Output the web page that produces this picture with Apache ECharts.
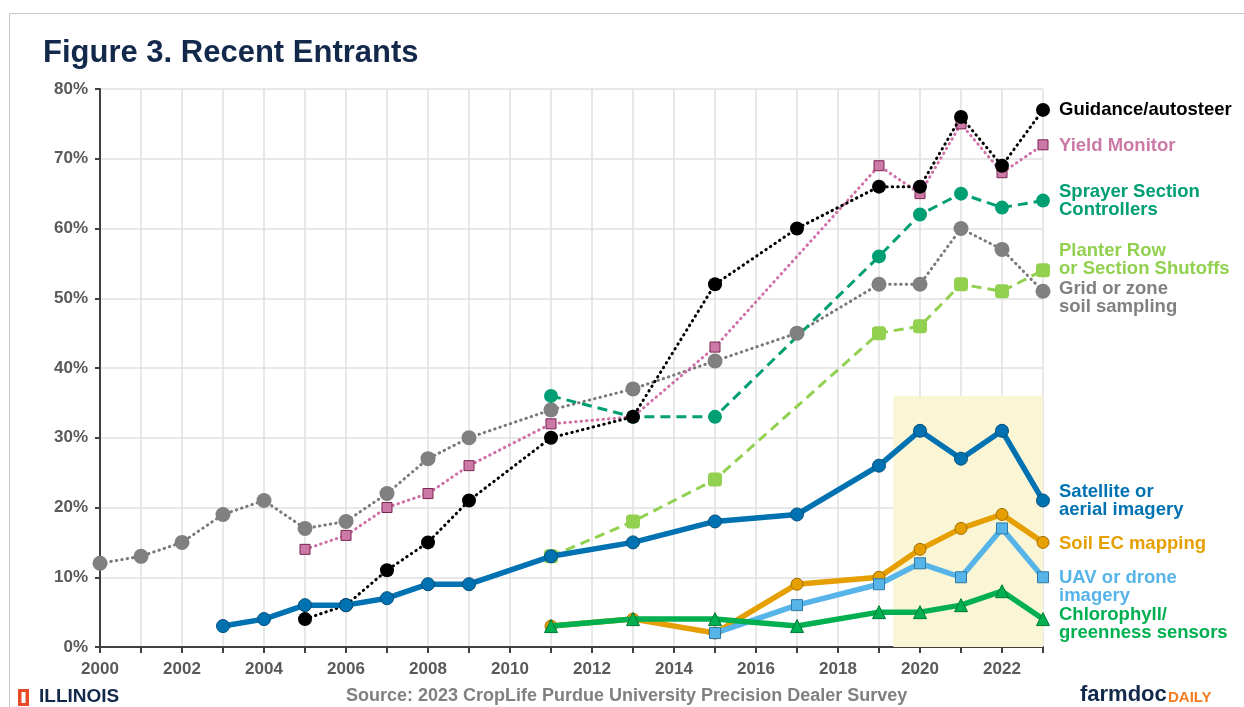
<!DOCTYPE html>
<html>
<head>
<meta charset="utf-8">
<script src="https://cdn.jsdelivr.net/npm/echarts@6/dist/echarts.min.js"></script>
<style>
html,body{margin:0;padding:0;background:#fff;}
#chart{width:1244px;height:707px;}
</style>
</head>
<body>
<div id="chart"></div>
<script>
// ---- data ----
var years = [2000,2001,2002,2003,2004,2005,2006,2007,2008,2009,2011,2013,2015,2017,2019,2020,2021,2022,2023];
var gridSoil   = [12,13,15,19,21,17,18,22,27,30,34,37,41,45,52,52,60,57,51];
var yieldMon   = [null,null,null,null,null,14,16,20,22,26,32,33,43,null,69,65,75,68,72];
var guidance   = [null,null,null,null,null,4,6,11,15,21,30,33,52,60,66,66,76,69,77];
var sprayer    = [null,null,null,null,null,null,null,null,null,null,36,33,33,null,56,62,65,63,64];
var planter    = [null,null,null,null,null,null,null,null,null,null,13,18,24,null,45,46,52,51,54];
var satellite  = [null,null,null,3,4,6,6,7,9,9,13,15,18,19,26,31,27,31,21];
var soilEC     = [null,null,null,null,null,null,null,null,null,null,3,4,2,9,10,14,17,19,15];
var uav        = [null,null,null,null,null,null,null,null,null,null,null,null,2,6,9,12,10,17,10];
var chloro     = [null,null,null,null,null,null,null,null,null,null,3,4,4,3,5,5,6,8,4];
var yTicks = [0,10,20,30,40,50,60,70,80];
var highlightFrom = 2019.35, highlightTo = 2023, highlightTop = 36;

function pairs(arr){ return years.map(function(y,i){ return [y, arr[i]]; }); }

var FONT = '"Liberation Sans", Arial, sans-serif';

function mk(name, data, color, opt){
  return {
    name: name, type: 'line', data: pairs(data), connectNulls: true,
    symbol: opt.symbol, symbolSize: opt.size,
    lineStyle: {color: opt.lineColor || color, width: opt.width, type: opt.type, cap: opt.cap || 'butt'},
    itemStyle: {color: opt.fill || color, borderColor: opt.border || color, borderWidth: opt.bw || 0},
    z: opt.z || 2,
    emphasis: {disabled: true},
    endLabel: {
      show: true, formatter: opt.label, color: color,
      fontFamily: FONT, fontWeight: 'bold', fontSize: 18.5, lineHeight: 18,
      distance: 16, offset: opt.offset || [0,0]
    },
    animation: false
  };
}

var series = [
  mk('Grid or zone soil sampling', gridSoil, '#808080', {symbol:'circle', size:15, width:3, type:[0.5,5], cap:'round', lineColor:'#7a7a7a', label:'Grid or zone\nsoil sampling', offset:[0,7]}),
  mk('Yield Monitor', yieldMon, '#CC79A7', {symbol:'rect', size:10, width:3, type:[0.5,5], cap:'round', lineColor:'#D070A8', fill:'#CC79A7', border:'#7a2450', bw:1, label:'Yield Monitor', offset:[0,1]}),
  mk('Guidance/autosteer', guidance, '#000000', {symbol:'circle', size:14, width:3, type:[0.5,5], cap:'round', label:'Guidance/autosteer', z:3}),
  mk('Sprayer Section Controllers', sprayer, '#009E73', {symbol:'circle', size:14, width:3, type:[10,6], label:'Sprayer Section\nControllers'}),
  mk('Planter Row or Section Shutoffs', planter, '#92D050', {symbol:'roundRect', size:14, width:3, type:[10,6], label:'Planter Row\nor Section Shutoffs', offset:[0,-10]}),
  mk('Satellite or aerial imagery', satellite, '#0072B2', {symbol:'circle', size:13, width:5.5, type:'solid', border:'#004f7c', bw:1, label:'Satellite or\naerial imagery', z:4}),
  mk('Soil EC mapping', soilEC, '#E69F00', {symbol:'circle', size:12, width:5.5, type:'solid', border:'#a06e00', bw:1, label:'Soil EC mapping', offset:[0,2]}),
  mk('UAV or drone imagery', uav, '#56B4E9', {symbol:'rect', size:11, width:5.5, type:'solid', border:'#2f79a6', bw:1, label:'UAV or drone\nimagery', offset:[0,10]}),
  mk('Chlorophyll/ greenness sensors', chloro, '#00B050', {symbol:'triangle', size:13, width:5.5, type:'solid', border:'#007a36', bw:1, label:'Chlorophyll/\ngreenness sensors', offset:[0,5], z:5})
];
series[0].markArea = {
  silent: true,
  itemStyle: {color: '#FAF6D5'},
  data: [[{xAxis: highlightFrom, yAxis: 0}, {xAxis: highlightTo, yAxis: highlightTop}]]
};

var chart = echarts.init(document.getElementById('chart'), null, {renderer: 'canvas'});
chart.setOption({
  backgroundColor: '#ffffff',
  animation: false,
  grid: {left: 100, right: 201, top: 89, bottom: 60, containLabel: false},
  xAxis: {
    type: 'value', min: 2000, max: 2023, interval: 1,
    axisLine: {show: true, onZero: false, lineStyle: {color: '#404040', width: 2}},
    axisTick: {show: true, length: 6, lineStyle: {color: '#404040', width: 2}},
    axisLabel: {
      color: '#595959', fontFamily: FONT, fontWeight: 'bold', fontSize: 17, margin: 14,
      formatter: function(v){ return (v % 2 === 0 && v < 2023) ? String(v) : ''; }
    },
    splitLine: {show: true, lineStyle: {color: '#e0e0e0', width: 1.5}}
  },
  yAxis: {
    type: 'value', min: 0, max: 80, interval: 10,
    axisLine: {show: true, lineStyle: {color: '#404040', width: 2}},
    axisTick: {show: true, length: 5, lineStyle: {color: '#404040', width: 2}},
    axisLabel: {
      color: '#595959', fontFamily: FONT, fontWeight: 'bold', fontSize: 17, margin: 12,
      formatter: function(v){ return yTicks.indexOf(v) >= 0 ? v + '%' : ''; }
    },
    splitLine: {show: true, lineStyle: {color: '#e0e0e0', width: 1.5}}
  },
  graphic: [
    {type: 'rect', left: 7, top: 11, shape: {width: 1300, height: 800}, style: {fill: 'none', stroke: '#c8c8c8', lineWidth: 1}, z: -10, silent: true},
    {type: 'text', left: 43, top: 38, style: {text: 'Figure 3. Recent Entrants', fill: '#13294B', font: 'bold 31px ' + FONT}},
    {type: 'rect', left: 18, top: 689, shape: {width: 11, height: 17}, style: {fill: '#E84A27'}},
    {type: 'rect', left: 21.5, top: 692, shape: {width: 4, height: 11}, style: {fill: '#ffffff'}},
    {type: 'text', left: 39, top: 687, style: {text: 'ILLINOIS', fill: '#13294B', font: 'bold 19px ' + FONT}},
    {type: 'text', left: 346, top: 687, style: {text: 'Source: 2023 CropLife Purdue University Precision Dealer Survey', fill: '#808080', font: 'bold 18px ' + FONT}},
    {type: 'text', left: 1080, top: 684, style: {text: 'farmdoc', fill: '#13294B', font: 'bold 22px ' + FONT}},
    {type: 'text', left: 1168, top: 690, style: {text: 'DAILY', fill: '#F47B20', font: 'bold 15px ' + FONT}}
  ],
  series: series
});
</script>
</body>
</html>
